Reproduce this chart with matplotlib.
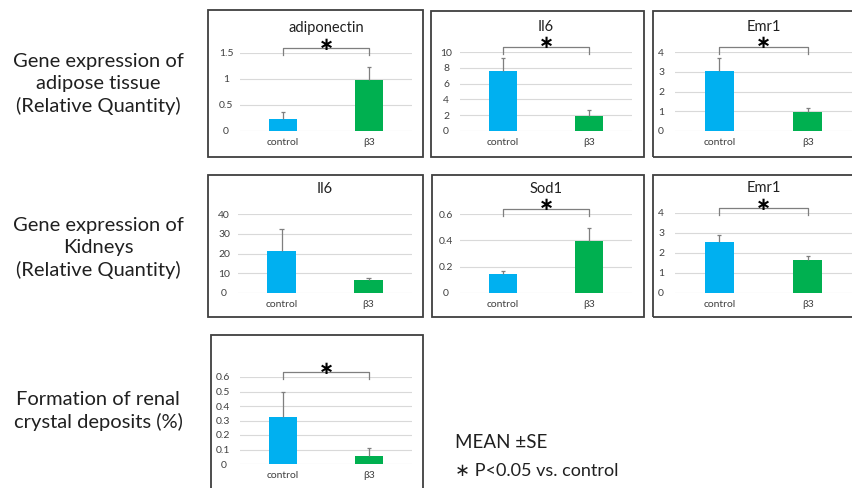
import numpy as np
import matplotlib
matplotlib.use("Agg")
import matplotlib.pyplot as plt
from matplotlib.patches import Rectangle

plt.rcParams['font.family'] = ['Lato', 'DejaVu Sans']

# ---- data ----
groups = ['control', 'β3']
titles = ['adiponectin', 'Il6', 'Emr1', 'Il6', 'Sod1', 'Emr1', '']
control_mean = [0.24, 7.6, 3.06, 21.1, 0.146, 2.57, 0.323]
control_se = [0.12, 1.7, 0.62, 11.4, 0.02, 0.32, 0.177]
b3_mean = [0.98, 1.96, 0.97, 6.8, 0.396, 1.65, 0.055]
b3_se = [0.26, 0.64, 0.17, 1.0, 0.097, 0.20, 0.057]
y_max = [1.5, 10, 4, 40, 0.6, 4, 0.6]
y_step = [0.5, 2, 1, 10, 0.2, 1, 0.1]
significant = [True, True, True, False, True, True, True]

row_labels = ['Gene expression of\nadipose tissue\n(Relative Quantity)',
              'Gene expression of\nKidneys\n(Relative Quantity)',
              'Formation of renal\ncrystal deposits (%)']

# ---- layout in pixels: (box l, t, r, b), (axes l, t, r, b) ----
W, H = 852, 488
layout = [
    ((208, 10, 423, 157), (240, 53, 412, 131)),
    ((431, 11, 644, 157), (460, 52, 632, 131)),
    ((653, 11, 880, 157), (675, 52, 852, 131)),
    ((208, 175, 423, 317), (238, 214, 412, 293)),
    ((432, 175, 644, 317), (460, 214, 632, 293)),
    ((653, 175, 880, 317), (675, 213, 852, 293)),
    ((211, 335, 423, 520), (240, 377, 412, 464)),
]
row_label_y = [84, 248, 411]

BLUE = '#00B0F0'
GREEN = '#00B050'
GRID = '#D9D9D9'
ERR = '#7F7F7F'


def fig_rect(l, t, r, b):
    return [l / W, 1 - b / H, (r - l) / W, (b - t) / H]


fig = plt.figure(figsize=(W / 100, H / 100), dpi=100)
fig.patch.set_facecolor('white')

for i, (box, axbox) in enumerate(layout):
    bl, bt, br, bb = box
    fig.add_artist(Rectangle((bl / W, 1 - bb / H), (br - bl) / W, (bb - bt) / H,
                             transform=fig.transFigure, fill=False,
                             edgecolor='#3F3F3F', linewidth=1.3, clip_on=False))

    ax = fig.add_axes(fig_rect(*axbox))
    ax.set_facecolor('none')
    x = np.arange(len(groups))
    means = [control_mean[i], b3_mean[i]]
    ses = [control_se[i], b3_se[i]]
    ax.bar(x, means, width=0.33, color=[BLUE, GREEN], zorder=3)
    # upper error bars only
    for xi, m, s in zip(x, means, ses):
        ax.vlines(xi, m, m + s, color=ERR, linewidth=0.9, zorder=4)
        ax.hlines(m + s, xi - 0.025, xi + 0.025, color=ERR, linewidth=0.9, zorder=4)

    ticks = np.round(np.arange(0, y_max[i] + y_step[i] / 2, y_step[i]), 6)
    ax.set_ylim(0, y_max[i])
    ax.set_xlim(-0.5, 1.5)
    ax.set_yticks(ticks)
    ax.set_yticklabels([f'{t:g}' for t in ticks], fontsize=7.5, color='#404040')
    for lab in ax.get_yticklabels():
        lab.set_horizontalalignment('center')
    ax.tick_params(axis='y', length=0, pad=10 if i != 6 else 12)
    ax.set_xticks(x)
    ax.set_xticklabels(groups, fontsize=7.5, color='#404040')
    ax.tick_params(axis='x', length=0, pad=5)
    ax.grid(axis='y', color=GRID, linewidth=0.8, zorder=0)
    for sp in ax.spines.values():
        sp.set_visible(False)

    axh = axbox[3] - axbox[1]
    if titles[i]:
        ax.text(0.5, 1 + 25 / axh, titles[i], transform=ax.transAxes,
                ha='center', va='center', fontsize=10.5, color='#202020')
    if significant[i]:
        tr = ax.get_xaxis_transform()
        yb = 1 + 5 / axh
        yt = 1 - 2 / axh
        ax.plot([0, 0, 1, 1], [yt, yb, yb, yt], transform=tr, color='#7F7F7F',
                linewidth=0.9, clip_on=False)
        ax.text(0.5, 1 + 8.5 / axh, '∗', transform=tr, ha='center', va='center',
                fontsize=13, fontweight='bold', color='black', family='DejaVu Sans')

for label, yc in zip(row_labels, row_label_y):
    fig.text(98 / W, 1 - yc / H, label, ha='center', va='center',
             fontsize=14.5, linespacing=1.35, color='#202020')

fig.text(455 / W, 1 - 442 / H, 'MEAN ±SE', ha='left', va='center',
         fontsize=13.5, color='#202020')
fig.text(455 / W, 1 - 471 / H, '∗ P<0.05 vs. control', ha='left', va='center',
         fontsize=13, color='#202020')

fig.savefig('out.png', dpi=100)
